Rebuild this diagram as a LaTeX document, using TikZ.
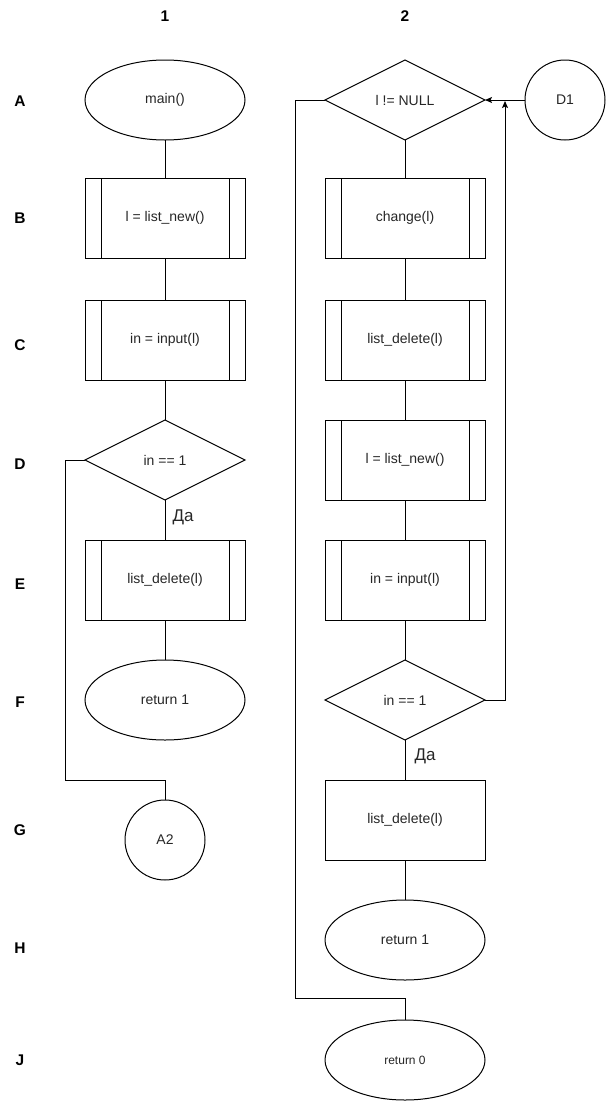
\documentclass[tikz,border=0pt]{standalone}
\usepackage{fontspec}
\setmainfont{Liberation Sans}
\usetikzlibrary{shapes.geometric,arrows.meta}
\begin{document}
\begin{tikzpicture}[x=1pt,y=-1pt,
  line width=1pt,
  txt/.style={text=black!85, font=\fontsize{14}{16}\selectfont},
  base/.style={draw, txt, inner sep=0pt, outer sep=0pt},
  term/.style={base, ellipse, minimum width=160, minimum height=80},
  proc/.style={base, rectangle, minimum width=160, minimum height=80},
  subproc/.style={proc, path picture={
      \draw ([xshift=16pt]path picture bounding box.north west) -- ([xshift=16pt]path picture bounding box.south west);
      \draw ([xshift=-16pt]path picture bounding box.north east) -- ([xshift=-16pt]path picture bounding box.south east);}},
  decide/.style={base, diamond, aspect=2, minimum width=160, minimum height=80},
  conn/.style={base, circle, minimum size=80},
  head/.style={font=\fontsize{15.5}{18}\selectfont\bfseries, text=black},
  yes/.style={font=\fontsize{17}{19}\selectfont, text=black!85},
  flow/.style={draw},
  arr/.style={draw, -{Stealth[length=7pt,width=6pt,inset=1.5pt]}}]
\useasboundingbox (0,0) rectangle (606,1101);

% column and row headings
\node[head] (c1) at (165,16) {1};
\node[head] (c2) at (405,16) {2};
\node[head] (rA) at (20,101) {A};
\node[head] (rB) at (20,218) {B};
\node[head] (rC) at (20,345) {C};
\node[head] (rD) at (20,464) {D};
\node[head] (rE) at (20,584) {E};
\node[head] (rF) at (20,702) {F};
\node[head] (rG) at (20,830) {G};
\node[head] (rH) at (20,948) {H};
\node[head] (rJ) at (20,1060) {J};

% column 1
\node[term]    (a1) at (165,100) {main()};
\node[subproc] (b1) at (165,218) {l = list\_new()};
\node[subproc] (cc1) at (165,340) {in = input(l)};
\node[decide]  (d1) at (165,460) {in == 1};
\node[subproc] (e1) at (165,580) {list\_delete(l)};
\node[term]    (f1) at (165,700) {return 1};
\node[conn]    (g1) at (165,840) {A2};
\node[yes]     (y1) at (183,517) {Да};
\coordinate (k1) at (65,780);

\path[flow] (a1) -- (b1);
\path[flow] (b1) -- (cc1);
\path[flow] (cc1) -- (d1);
\path[flow] (d1) -- (e1);
\path[flow] (e1) -- (f1);
\path[flow] (d1.west) -| (k1) -| (g1.north);

% column 2
\node[decide]  (a2) at (405,100) {l != NULL};
\node[conn]    (a3) at (565,100) {D1};
\node[subproc] (b2) at (405,218) {change(l)};
\node[subproc] (cc2) at (405,340) {list\_delete(l)};
\node[subproc] (d2) at (405,460) {l = list\_new()};
\node[subproc] (e2) at (405,580) {in = input(l)};
\node[decide]  (f2) at (405,700) {in == 1};
\node[proc]    (g2) at (405,820) {list\_delete(l)};
\node[term]    (h2) at (405,940) {return 1};
\node[term, font=\fontsize{12}{14}\selectfont] (j2) at (405,1060) {return 0};
\node[yes]     (y2) at (425,756) {Да};
\coordinate (k2) at (505,101);
\coordinate (k3) at (295,998);

\path[arr] (a3) -- (a2.east);
\path[flow] (a2) -- (b2);
\path[flow] (b2) -- (cc2);
\path[flow] (cc2) -- (d2);
\path[flow] (d2) -- (e2);
\path[flow] (e2) -- (f2);
\path[flow] (f2) -- (g2);
\path[flow] (g2) -- (h2);
\path[arr] (f2.east) -| (k2);
\path[flow] (a2.west) -| (k3) -| (j2.north);
\end{tikzpicture}
\end{document}
